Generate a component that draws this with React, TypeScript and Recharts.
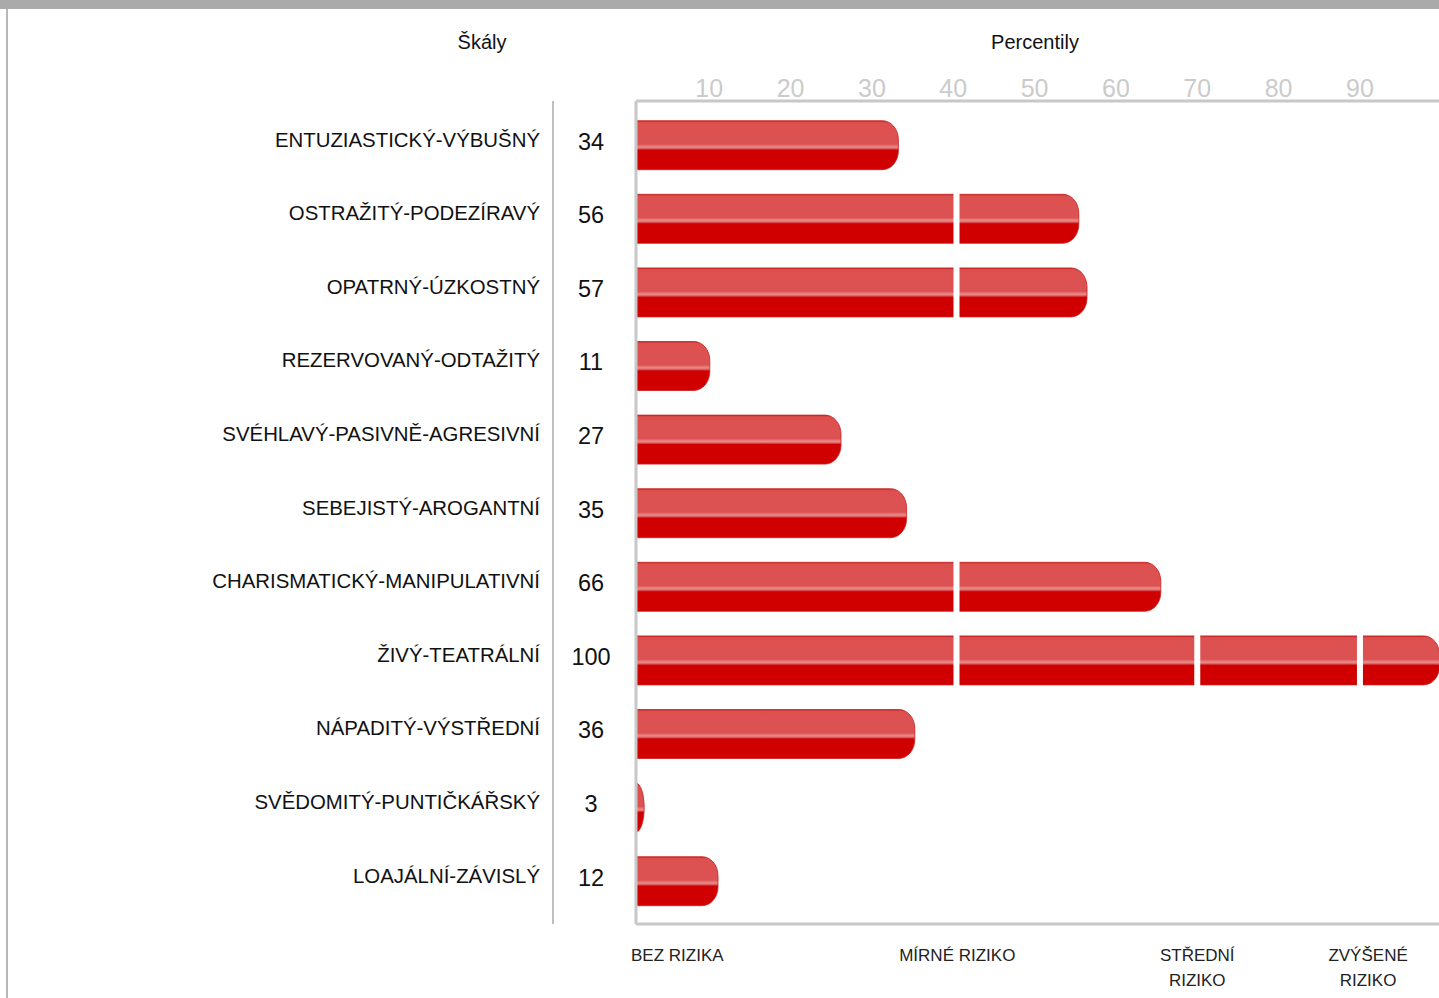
import React from 'react';
import { BarChart, Bar, XAxis, YAxis, ReferenceLine } from 'recharts';

const CATEGORIES = [
  'ENTUZIASTICKÝ-VÝBUŠNÝ',
  'OSTRAŽITÝ-PODEZÍRAVÝ',
  'OPATRNÝ-ÚZKOSTNÝ',
  'REZERVOVANÝ-ODTAŽITÝ',
  'SVÉHLAVÝ-PASIVNĚ-AGRESIVNÍ',
  'SEBEJISTÝ-AROGANTNÍ',
  'CHARISMATICKÝ-MANIPULATIVNÍ',
  'ŽIVÝ-TEATRÁLNÍ',
  'NÁPADITÝ-VÝSTŘEDNÍ',
  'SVĚDOMITÝ-PUNTIČKÁŘSKÝ',
  'LOAJÁLNÍ-ZÁVISLÝ',
];
const PERCENTILES = [34, 56, 57, 11, 27, 35, 66, 100, 36, 3, 12];
const PCT_TICKS = [10, 20, 30, 40, 50, 60, 70, 80, 90];
const ZONE_BOUNDS = [40.4, 70, 90];
const ZONE_TICKS = [1, 40.5, 70, 91];
const ZONE_LABELS = [['BEZ RIZIKA'], ['MÍRNÉ RIZIKO'], ['STŘEDNÍ', 'RIZIKO'], ['ZVÝŠENÉ', 'RIZIKO']];
const BAR_DOMAIN: [number, number] = [2, 101];
const PCT_DOMAIN: [number, number] = [1, 100.8];

const data = CATEGORIES.map((name, i) => ({ name, value: PERCENTILES[i] }));

const FONT = "'Liberation Sans', Arial, sans-serif";
const FRAME = '#c8c8c8';
const PAD = { top: 7.7, bottom: 5.7 };

const RoundBar = (props: any) => {
  const { x, y, width, height } = props;
  if (!width || width <= 0) return null;
  const rx = Math.min(16, width);
  const ry = rx < 16 ? height / 2 : 19;
  const d = `M${x},${y} H${x + width - rx} A${rx},${ry} 0 0 1 ${x + width},${y + ry} V${y + height - ry} A${rx},${ry} 0 0 1 ${x + width - rx},${y + height} H${x} Z`;
  return <path d={d} fill="url(#barGrad)" stroke="#c82020" strokeWidth={0.8} />;
};

const NameTick = (props: any) => {
  const { x, y, payload } = props;
  return (
    <text x={x} y={y + 1} textAnchor="end" fontSize={20.4} fontFamily={FONT} fill="#111">
      {payload.value}
    </text>
  );
};

const ValueTick = (props: any) => {
  const { x, y, index } = props;
  return (
    <text x={x} y={y + 4} textAnchor="middle" fontSize={23.5} fontFamily={FONT} fill="#111">
      {PERCENTILES[index]}
    </text>
  );
};

const PctTick = (props: any) => {
  const { x, y, payload } = props;
  return (
    <text
      x={x}
      y={y}
      textAnchor="middle"
      fontSize={25}
      fontFamily="'Liberation Sans Narrow', 'Liberation Sans', Arial, sans-serif"
      fill="#cbcbcb"
    >
      {payload.value}
    </text>
  );
};

const ZoneTick = (props: any) => {
  const { x, y, index } = props;
  const lines = ZONE_LABELS[index] || [];
  const anchor = index === 0 ? 'start' : 'middle';
  const dx = index === 0 ? -5 : 0;
  return (
    <text x={x + dx} y={y + 37} textAnchor={anchor} fontSize={17} fontFamily={FONT} fill="#222">
      {lines.map((l, i) => (
        <tspan key={i} x={x + dx} dy={i === 0 ? 0 : 25}>
          {l}
        </tspan>
      ))}
    </text>
  );
};

export default function App() {
  return (
    <div
      style={{
        position: 'fixed',
        left: 0,
        top: 0,
        width: 1439,
        height: 998,
        overflow: 'hidden',
        background: '#fff',
      }}
    >
      <div style={{ position: 'absolute', left: 0, top: 0, width: 1439, height: 9, background: '#aaaaaa' }} />
      <div style={{ position: 'absolute', left: 6, top: 9, width: 2, height: 989, background: '#b8b8b8' }} />
      <div
        style={{
          position: 'absolute',
          left: 482,
          top: 42,
          transform: 'translate(-50%, -50%)',
          fontFamily: FONT,
          fontSize: 20,
          color: '#111',
          whiteSpace: 'nowrap',
        }}
      >
        Škály
      </div>
      <div
        style={{
          position: 'absolute',
          left: 1035,
          top: 42,
          transform: 'translate(-50%, -50%)',
          fontFamily: FONT,
          fontSize: 20,
          color: '#111',
          whiteSpace: 'nowrap',
        }}
      >
        Percentily
      </div>
      <div style={{ position: 'absolute', left: 0, top: 0 }}>
        <BarChart
          width={1470}
          height={998}
          data={data}
          layout="vertical"
          margin={{ top: 71, right: 22.2, bottom: 0, left: 13 }}
        >
          <defs>
            <linearGradient id="barGrad" x1="0" y1="0" x2="0" y2="1">
              <stop offset="0" stopColor="#c82828" />
              <stop offset="0.04" stopColor="#dc5050" />
              <stop offset="0.48" stopColor="#dc5252" />
              <stop offset="0.51" stopColor="#e37474" />
              <stop offset="0.54" stopColor="#e88c8c" />
              <stop offset="0.57" stopColor="#dc5c5c" />
              <stop offset="0.6" stopColor="#d00000" />
              <stop offset="1" stopColor="#d00000" />
            </linearGradient>
          </defs>
          <XAxis
            xAxisId="pct"
            orientation="top"
            type="number"
            domain={PCT_DOMAIN}
            allowDataOverflow
            ticks={PCT_TICKS}
            interval={0}
            height={30}
            tickLine={false}
            tickSize={0}
            tickMargin={4}
            axisLine={{ stroke: FRAME, strokeWidth: 3 }}
            tick={<PctTick />}
          />
          <XAxis
            xAxisId="zones"
            orientation="bottom"
            type="number"
            domain={PCT_DOMAIN}
            allowDataOverflow
            ticks={ZONE_TICKS}
            interval={0}
            height={74}
            tickLine={false}
            tickSize={0}
            tickMargin={0}
            axisLine={{ stroke: FRAME, strokeWidth: 3 }}
            tick={<ZoneTick />}
          />
          <XAxis
            xAxisId="bars"
            orientation="bottom"
            type="number"
            domain={BAR_DOMAIN}
            allowDataOverflow
            height={0}
            hide
          />
          <YAxis
            yAxisId="main"
            type="category"
            dataKey="name"
            width={83}
            interval={0}
            padding={PAD}
            tickLine={false}
            tickSize={0}
            tickMargin={45}
            axisLine={{ stroke: FRAME, strokeWidth: 3 }}
            tick={<ValueTick />}
          />
          <YAxis
            yAxisId="names"
            type="category"
            dataKey="name"
            width={540}
            interval={0}
            padding={PAD}
            tickLine={false}
            tickSize={0}
            tickMargin={13}
            axisLine={{ stroke: '#aaaaaa', strokeWidth: 1.5 }}
            tick={<NameTick />}
          />
          <Bar
            xAxisId="bars"
            yAxisId="main"
            dataKey="value"
            barSize={49}
            shape={<RoundBar />}
            isAnimationActive={false}
          />
          {ZONE_BOUNDS.map((b) => (
            <ReferenceLine
              key={b}
              xAxisId="pct"
              yAxisId="main"
              segment={[
                { x: b, y: CATEGORIES[0] },
                { x: b, y: CATEGORIES[CATEGORIES.length - 1] },
              ]}
              stroke="#ffffff"
              strokeWidth={6}
            />
          ))}
        </BarChart>
      </div>
    </div>
  );
}
